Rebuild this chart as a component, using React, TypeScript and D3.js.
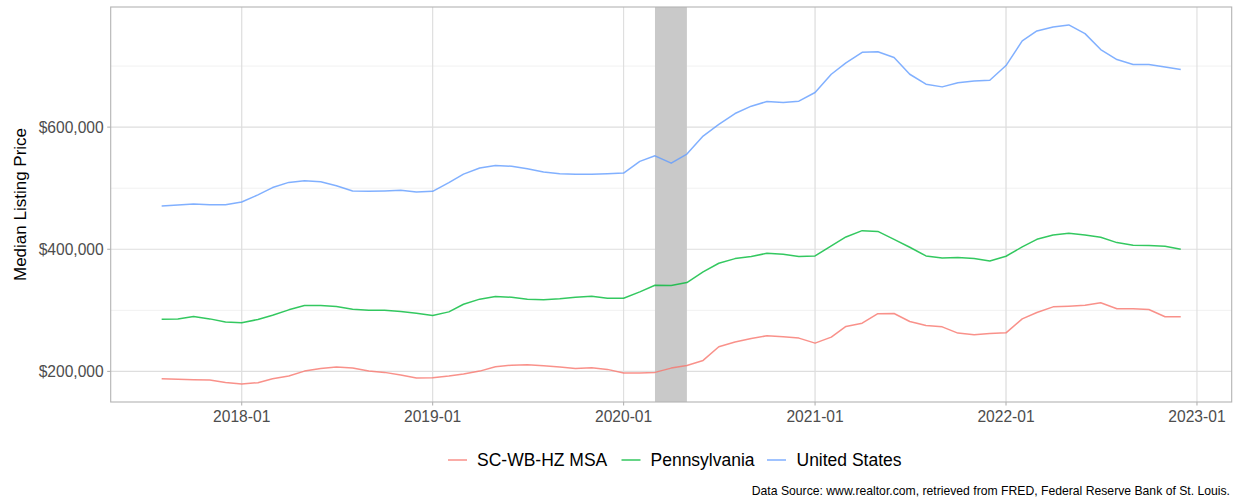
import React from "react";
import * as d3 from "d3";

// monthly observations, 2017-08 .. 2022-12
const months = d3.utcMonth.range(new Date(Date.UTC(2017, 7, 1)), new Date(Date.UTC(2023, 0, 1)));

const msa = [
  188, 187, 186.4, 185.8, 182, 179.3, 181.5, 188, 192.4, 200.5, 204.9, 207.1, 205.4,
  200.5, 198.4, 194, 189.1, 189.6, 192.4, 195.6, 200.5, 207.6, 210.2, 210.9, 209.3, 207.1,
  204.9, 206, 203.3, 197.3, 197.3, 198.4, 205.4, 209.8, 218, 240.3, 248, 254, 258.3,
  256.7, 254.5, 246.3, 256.1, 273.6, 279, 294.5, 294.8, 281.7, 275.2, 273, 262.7, 259.9,
  262.1, 263.2, 286.1, 296.5, 305.7, 306.8, 308.4, 312.3, 302.5, 302.5, 301.4, 289.4, 289.4,
];
const penn = [
  285.6, 286, 290, 286, 281, 279.6, 285, 292, 300.8, 307.9, 307.9, 306.3, 301.9,
  300.3, 300.3, 298, 295.4, 291.6, 297.5, 310, 318.3, 322.6, 321.5, 318.3, 317.2, 318.8,
  321.5, 323.2, 319.9, 319.9, 330.2, 341.1, 340.6, 345.5, 362.9, 377.1, 384.7, 388, 393.5,
  391.8, 388, 389.1, 405.4, 420.2, 430.5, 429.2, 416.3, 403.3, 389.1, 385.8, 386.4, 384.7,
  380.9, 388.6, 403.8, 416.3, 423.4, 426.2, 423.4, 419.6, 410.9, 406.5, 406, 404.9, 400,
];
const usa = [
  471, 472.5, 474, 473, 473, 477.4, 489, 501, 509.5, 512, 510.6, 504, 495.4,
  494.8, 495.4, 496.5, 493.7, 494.8, 509, 523, 533, 537.3, 536, 532, 526.4, 523.7,
  523, 523, 523.7, 524.8, 543.9, 553, 541, 555.9, 585.3, 604.4, 622.3, 634.3, 642,
  640.3, 642.5, 656.7, 686.6, 705.2, 722.6, 723.5, 713.9, 686.6, 670.3, 665.9, 672.5, 675.7,
  676.8, 700.8, 741.1, 757.5, 764, 767.3, 753.1, 727, 710.6, 702.5, 702.5, 698.6, 694.3,
];

const seriesNames = ["SC-WB-HZ MSA", "Pennsylvania", "United States"];
const seriesColors = ["#F8766D", "#00BA38", "#619CFF"];
const seriesValues = [msa, penn, usa];

const recession = [new Date(Date.UTC(2020, 2, 1)), new Date(Date.UTC(2020, 4, 1))];
const yTicks = [200000, 400000, 600000];
const yMinor = [300000, 500000, 700000];
const xTicks = d3.utcYear.range(new Date(Date.UTC(2018, 0, 1)), new Date(Date.UTC(2024, 0, 1)));
const xMinor = d3.utcMonth.every(12)!.range(new Date(Date.UTC(2017, 6, 1)), new Date(Date.UTC(2023, 0, 1)));

const W = 1241;
const H = 502;
const panel = { left: 110.7, right: 1231.7, top: 7, bottom: 402 };
const font = "'Liberation Sans', Arial, Helvetica, sans-serif";

export default function App() {
  // ggplot style 5% expansion on both axes
  const xExt = d3.extent(months) as [Date, Date];
  const span = panel.right - panel.left;
  const pad = span / 1.1 * 0.05;
  const x = d3.scaleUtc().domain(xExt).range([panel.left + pad, panel.right - pad]);

  const all = seriesValues.flat().map((v) => v * 1000);
  const [lo, hi] = d3.extent(all) as [number, number];
  const e = (hi - lo) * 0.05;
  const y = d3.scaleLinear().domain([lo - e, hi + e]).range([panel.bottom, panel.top]);

  const line = d3
    .line<number>()
    .x((_, i) => x(months[i]))
    .y((d) => y(d * 1000));

  const fmt = (v: number) => "$" + d3.format(",")(v);

  const legendItems = [
    { key: 448, text: 477 },
    { key: 621.5, text: 650.5 },
    { key: 767, text: 796.5 },
  ];

  return (
    <div style={{ position: "absolute", left: 0, top: 0 }}>
      <svg width={W} height={H} style={{ display: "block", fontFamily: font }}>
        <rect width={W} height={H} fill="#fff" />
        {/* grid */}
        {yMinor.map((v) => (
          <line key={"ym" + v} x1={panel.left} x2={panel.right} y1={y(v)} y2={y(v)} stroke="#EBEBEB" strokeWidth={0.7} />
        ))}
        {xMinor.map((d) => (
          <line key={"xm" + d.getTime()} x1={x(d)} x2={x(d)} y1={panel.top} y2={panel.bottom} stroke="#EBEBEB" strokeWidth={0.7} />
        ))}
        {yTicks.map((v) => (
          <line key={"y" + v} x1={panel.left} x2={panel.right} y1={y(v)} y2={y(v)} stroke="#DEDEDE" strokeWidth={1.1} />
        ))}
        {xTicks.map((d) => (
          <line key={"x" + d.getTime()} x1={x(d)} x2={x(d)} y1={panel.top} y2={panel.bottom} stroke="#DEDEDE" strokeWidth={1.1} />
        ))}
        {/* recession */}
        <rect
          x={x(recession[0])}
          y={panel.top}
          width={x(recession[1]) - x(recession[0])}
          height={panel.bottom - panel.top}
          fill="#C9C9C9"
        />
        {seriesValues.map((s, i) => (
          <path
            key={seriesNames[i]}
            d={line(s) || ""}
            fill="none"
            stroke={seriesColors[i]}
            strokeOpacity={0.8}
            strokeWidth={1.5}
            strokeLinejoin="round"
          />
        ))}
        <rect
          x={panel.left}
          y={panel.top}
          width={panel.right - panel.left}
          height={panel.bottom - panel.top}
          fill="none"
          stroke="#B3B3B3"
          strokeWidth={1.1}
        />
        {/* y axis */}
        {yTicks.map((v) => (
          <g key={"yt" + v}>
            <line x1={panel.left - 3.5} x2={panel.left} y1={y(v)} y2={y(v)} stroke="#B3B3B3" strokeWidth={1.1} />
            <text x={panel.left - 7} y={y(v)} dy="0.35em" textAnchor="end" fontSize={15.6} fill="#4D4D4D">
              {fmt(v)}
            </text>
          </g>
        ))}
        {/* x axis */}
        {xTicks.map((d) => (
          <g key={"xt" + d.getTime()}>
            <line x1={x(d)} x2={x(d)} y1={panel.bottom} y2={panel.bottom + 3.5} stroke="#B3B3B3" strokeWidth={1.1} />
            <text x={x(d)} y={panel.bottom + 20} textAnchor="middle" fontSize={15.6} fill="#4D4D4D">
              {d3.utcFormat("%Y-%m")(d)}
            </text>
          </g>
        ))}
        <text
          transform={`translate(20,${(panel.top + panel.bottom) / 2}) rotate(-90)`}
          textAnchor="middle"
          dy="0.35em"
          fontSize={17}
          fill="#000"
        >
          Median Listing Price
        </text>
        {/* legend */}
        {seriesNames.map((n, i) => (
          <g key={"lg" + n}>
            <line
              x1={legendItems[i].key}
              x2={legendItems[i].key + 19}
              y1={460}
              y2={460}
              stroke={seriesColors[i]}
              strokeOpacity={0.8}
              strokeWidth={1.5}
            />
            <text x={legendItems[i].text} y={460} dy="0.35em" fontSize={17.5} fill="#000">
              {n}
            </text>
          </g>
        ))}
        <text x={1230} y={495} textAnchor="end" fontSize={12.2} fill="#000">
          Data Source: www.realtor.com, retrieved from FRED, Federal Reserve Bank of St. Louis.
        </text>
      </svg>
    </div>
  );
}
